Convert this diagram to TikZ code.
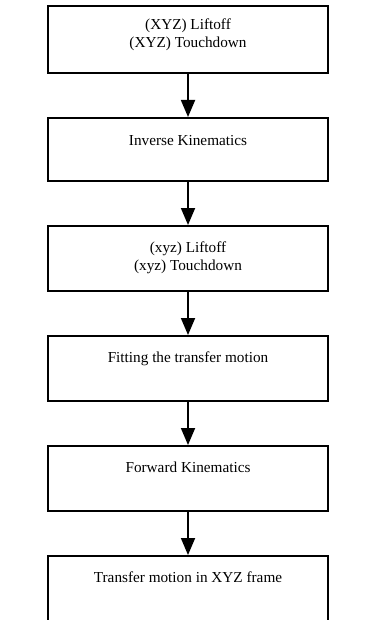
\documentclass[tikz,border=0pt]{standalone}
\usepackage{fontspec}
\setmainfont{Liberation Serif}
\usetikzlibrary{arrows.meta}
\begin{document}
\begin{tikzpicture}[x=1bp,y=-1bp,
  box/.style={draw=black,line width=1.8bp,minimum width=280bp,inner sep=0pt,anchor=north,fill=white},
  txt/.style={font=\fontsize{15.3}{18}\selectfont,align=center,inner sep=0pt,anchor=north},
  flow/.style={line width=1.8bp,-{Triangle[width=14bp,length=17bp]}}]
\useasboundingbox (0,0) rectangle (376,620);
\clip (0,0) rectangle (376,620);
\node[box,minimum height=67bp] (b1) at (188,5) {};
\node[box,minimum height=63bp] (b2) at (188,117) {};
\node[box,minimum height=65bp] (b3) at (188,225) {};
\node[box,minimum height=65bp] (b4) at (188,335) {};
\node[box,minimum height=65bp] (b5) at (188,445) {};
\node[box,minimum height=75bp] (b6) at (188,555) {};
\node[txt] (t1) at (188,18.5) {(XYZ) Liftoff\\(XYZ) Touchdown};
\node[txt] (t2) at (188,135.5) {Inverse Kinematics};
\node[txt] (t3) at (188,241.5) {(xyz) Liftoff\\(xyz) Touchdown};
\node[txt] (t4) at (188,351.5) {Fitting the transfer motion};
\node[txt] (t5) at (188,461.5) {Forward Kinematics};
\node[txt] (t6) at (188,571.5) {Transfer motion in XYZ frame};
\draw[flow] (b1.south) -- (b2.north);
\draw[flow] (b2.south) -- (b3.north);
\draw[flow] (b3.south) -- (b4.north);
\draw[flow] (b4.south) -- (b5.north);
\draw[flow] (b5.south) -- (b6.north);
\end{tikzpicture}
\end{document}
